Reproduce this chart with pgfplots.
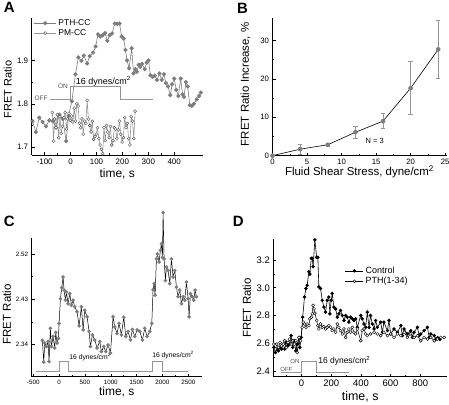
\documentclass[border=0pt]{standalone}
\usepackage{fontspec}
\setmainfont{Liberation Sans}
\setsansfont{Liberation Sans}
\usepackage{pgfplots}
\pgfplotsset{compat=1.18}
\definecolor{mgray}{RGB}{125,125,125}
\definecolor{lgray}{RGB}{150,150,150}
\definecolor{dgray}{RGB}{80,80,80}
\pgfplotsset{
  panel/.style={
    scale only axis,
    axis lines*=left,
    axis line style={line width=0.6pt},
    every tick/.style={black, line width=0.5pt},
    major tick length=3bp,
    minor tick length=1.6bp,
    minor tick num=1,
    /pgf/number format/assume math mode=true,
    /pgf/number format/1000 sep={},
    clip=false,
    anchor=south west,
    xlabel style={at={(axis description cs:0.5,0)}, anchor=center},
    ylabel style={anchor=center},
    legend cell align=left,
  },
}
\begin{document}
\begin{tikzpicture}
\useasboundingbox (0,0) rectangle (449bp,405bp);
% ---------------- Panel A
\begin{axis}[panel,
  at={(31.7bp,250bp)}, width=171bp, height=136.7bp,
  xmin=-150, xmax=510, ymin=1.682, ymax=1.997,
  xtick={-100,0,100,200,300,400}, ytick={1.7,1.8,1.9},
  ticklabel style={font=\fontsize{8}{8}\selectfont},
  xlabel={time, s}, ylabel={FRET Ratio},
  xlabel style={yshift=-18.5bp, font=\fontsize{12}{12}\selectfont},
  ylabel style={at={(axis description cs:-0.14,0.48)}, font=\fontsize{11}{11}\selectfont},
  legend style={draw=none, fill=none, at={(axis description cs:0,1)}, anchor=north west,
    yshift=3bp, xshift=-1bp, font=\fontsize{8.5}{9}\selectfont, row sep=-1.5bp},
  legend image code/.code={\draw[mark repeat=2,mark phase=2] plot coordinates {(0bp,0bp)(11bp,0bp)(22bp,0bp)};},
]
\addplot[mgray, line width=0.6pt, mark=*, mark size=1.8bp, mark options={fill=mgray, draw=mgray}] coordinates {
(-147,1.760) (-134,1.735) (-121,1.768) (-108,1.758) (-95,1.748) (-82,1.762) (-69,1.760)
(-56,1.745) (-43,1.775) (-30,1.765) (-17,1.714) (-8,1.772) (5,1.806) (19,1.868) (30,1.907)
(42,1.899) (51,1.911) (64,1.893) (74,1.910) (87,1.918) (97,1.932) (106,1.960) (115,1.955)
(124,1.958) (133,1.963) (142,1.945) (151,1.958) (160,1.962) (171,1.985) (180,1.984)
(189,1.985) (197,1.955) (205,1.950) (212,1.924) (218,1.900) (226,1.882) (236,1.928)
(243,1.870) (250,1.880) (256,1.874) (263,1.890) (269,1.885) (276,1.892) (286,1.880)
(294,1.895) (301,1.900) (308,1.866) (316,1.862) (325,1.865) (334,1.855) (343,1.870)
(352,1.855) (360,1.868) (368,1.848) (376,1.840) (385,1.820) (392,1.845) (400,1.858)
(408,1.832) (416,1.818) (425,1.858) (432,1.822) (438,1.816) (445,1.850) (452,1.840)
(460,1.797) (468,1.795) (476,1.800) (487,1.810) (496,1.818) (503,1.826)
};
\addlegendentry{PTH-CC}
\addplot[lgray, line width=0.6pt, mark=*, mark size=1.5bp, mark options={fill=white, draw=dgray, line width=0.4pt}] coordinates {
(-70,1.780) (-66,1.714) (-61,1.765) (-56,1.745) (-51,1.775) (-46,1.722) (-41,1.770)
(-36,1.732) (-31,1.748) (-26,1.768) (-21,1.780) (-16,1.742) (-11,1.765) (-6,1.778)
(-1,1.762) (4,1.772) (9,1.758) (14,1.790) (19,1.760) (24,1.800) (29,1.795) (34,1.755)
(39,1.745) (44,1.765) (49,1.730) (54,1.760) (59,1.755) (64,1.808) (69,1.765) (74,1.750)
(79,1.735) (84,1.760) (89,1.718) (94,1.725) (99,1.730) (104,1.745) (109,1.720)
(114,1.705) (119,1.695) (124,1.685) (129,1.745) (134,1.715) (139,1.750) (144,1.735)
(149,1.722) (154,1.748) (159,1.705) (164,1.715) (169,1.745) (174,1.742) (179,1.720)
(184,1.740) (189,1.760) (194,1.730) (199,1.712) (204,1.722) (209,1.768) (214,1.745)
(219,1.755) (224,1.720) (229,1.705) (234,1.770) (239,1.760) (244,1.720) (249,1.783)
};
\addlegendentry{PM-CC}
\addplot[lgray, line width=0.8pt, forget plot] coordinates {
(-80,1.811) (0,1.811) (0,1.841) (191,1.841) (191,1.811) (318,1.811)};
\node[font=\fontsize{6.5}{6.5}\selectfont, text=dgray] at (axis cs:-114,1.812) {OFF};
\node[font=\fontsize{6.5}{6.5}\selectfont, text=dgray] at (axis cs:-29,1.840) {ON};
\node[font=\fontsize{9}{9}\selectfont, anchor=west, inner sep=0pt] at (axis cs:20,1.851) {16 dynes/cm$^{\mathrm{2}}$};
\end{axis}
% ---------------- Panel B
\begin{axis}[panel,
  at={(272.5bp,249.3bp)}, width=174bp, height=137.4bp,
  xmin=0, xmax=25.2, ymin=0, ymax=35.8,
  xtick={0,5,...,25}, ytick={0,10,20,30},
  ticklabel style={font=\fontsize{7.8}{8}\selectfont},
  xlabel={Fluid Shear Stress, dyne/cm$^{\mathrm{2}}$}, ylabel={FRET Ratio Increase, \%},
  xlabel style={yshift=-16.5bp, font=\fontsize{11.5}{12}\selectfont},
  ylabel style={at={(axis description cs:-0.155,0.52)}, font=\fontsize{11.5}{12}\selectfont},
]
\addplot[black, line width=0.6pt, mark=*, mark size=2bp, mark options={fill=mgray, draw=mgray},
  error bars/.cd, y dir=both, y explicit,
  error bar style={lgray, line width=0.9pt},
  error mark options={rotate=90, mark size=2.2bp, lgray, line width=0.7pt}]
coordinates {
(0,0) +- (0,0)
(4,1.7) +- (0,1.3)
(8,2.85) +- (0,0.3)
(12,6.1) +- (0,1.5)
(16,9.0) +- (0,2.0)
(20,17.6) +- (0,6.9)
(24,27.7) +- (0,7.6)
};
\node[font=\fontsize{7.5}{7.5}\selectfont] at (axis cs:14.8,3.9) {N = 3};
\end{axis}
% ---------------- Panel C
\begin{axis}[panel,
  at={(31.7bp,28.3bp)}, width=170bp, height=138.4bp,
  xmin=-530, xmax=2760, ymin=2.276, ymax=2.551,
  xtick={-500,0,...,2500}, ytick={2.34,2.43,2.52},
  ticklabel style={font=\fontsize{6.3}{6.5}\selectfont},
  xlabel={time, s}, ylabel={FRET Ratio},
  xlabel style={yshift=-15.5bp, font=\fontsize{12}{12}\selectfont},
  ylabel style={at={(axis description cs:-0.147,0.45)}, font=\fontsize{11.5}{12}\selectfont},
]
\addplot[black, line width=0.5pt, mark=*, mark size=1.6bp, mark options={fill=mgray, draw=mgray}] coordinates {
(-323,2.348) (-297,2.305) (-277,2.343) (-245,2.336) (-213,2.346) (-194,2.306) (-168,2.372)
(-148,2.336) (-116,2.356) (-84,2.333) (-65,2.364) (-39,2.343) (-13,2.352) (0,2.382)
(26,2.431) (52,2.453) (77,2.474) (97,2.448) (123,2.428) (142,2.444) (174,2.421)
(206,2.441) (239,2.418) (271,2.428) (303,2.415) (348,2.405) (387,2.377) (432,2.415)
(465,2.369) (497,2.408) (542,2.395) (581,2.366) (606,2.336) (645,2.359) (690,2.349)
(735,2.333) (787,2.346) (819,2.326) (865,2.336) (903,2.326) (948,2.339) (994,2.323)
(1045,2.395) (1077,2.375) (1123,2.362) (1161,2.382) (1206,2.359) (1252,2.394)
(1290,2.356) (1335,2.366) (1381,2.349) (1419,2.370) (1465,2.356) (1510,2.369)
(1561,2.366) (1613,2.349) (1658,2.372) (1703,2.356) (1755,2.366) (1794,2.382)
(1819,2.449) (1839,2.461) (1858,2.438) (1884,2.510) (1903,2.520) (1935,2.504)
(1961,2.527) (1981,2.540) (2000,2.513) (2013,2.602) (2032,2.510) (2058,2.467)
(2077,2.494) (2110,2.487) (2142,2.461) (2174,2.510) (2206,2.474) (2239,2.487)
(2271,2.454) (2303,2.435) (2335,2.448) (2368,2.421) (2400,2.435) (2432,2.428)
(2465,2.464) (2497,2.431) (2516,2.395) (2542,2.441) (2581,2.435) (2606,2.428)
(2632,2.448) (2658,2.435)
};
\addplot[lgray, line width=0.8pt] coordinates {
(-452,2.2866) (0,2.2866) (0,2.3064) (180,2.3064) (180,2.2866) (1800,2.2866)
(1800,2.3064) (2000,2.3064) (2000,2.2866) (2500,2.2866)};
\node[font=\fontsize{6.8}{7}\selectfont, anchor=west, inner sep=0pt] at (axis cs:195,2.316) {16 dynes/cm$^{\mathrm{2}}$};
\node[font=\fontsize{6.8}{7}\selectfont, anchor=west, inner sep=0pt] at (axis cs:1800,2.319) {16 dynes/cm$^{\mathrm{2}}$};
\end{axis}
% ---------------- Panel D
\begin{axis}[panel,
  at={(273.3bp,28.3bp)}, width=173.7bp, height=137.4bp,
  xmin=-190, xmax=980, ymin=2.359, ymax=3.349,
  xtick={-200,0,...,800}, ytick={2.4,2.6,...,3.2},
  yticklabel style={/pgf/number format/.cd, fixed, fixed zerofill, precision=1},
  ticklabel style={font=\fontsize{9.5}{10}\selectfont},
  xlabel={time, s}, ylabel={FRET Ratio},
  xlabel style={yshift=-20bp, font=\fontsize{12.5}{13}\selectfont},
  ylabel style={at={(axis description cs:-0.153,0.5)}, font=\fontsize{11.5}{12}\selectfont},
  legend style={draw=none, fill=none, at={(axis description cs:0.395,0.83)}, anchor=north west,
    font=\fontsize{9}{9.5}\selectfont, row sep=-1.5bp},
  legend image code/.code={\draw[mark repeat=2,mark phase=2] plot coordinates {(0bp,0bp)(9bp,0bp)(18bp,0bp)};},
]
\addplot[black, line width=0.6pt, mark=*, mark size=1.4bp, mark options={fill=black}] coordinates {
(-187,2.570) (-176,2.533) (-166,2.558) (-155,2.545) (-144,2.570) (-134,2.558) (-123,2.594)
(-113,2.558) (-102,2.606) (-91,2.582) (-81,2.594) (-70,2.655) (-59,2.570) (-49,2.618)
(-38,2.545) (-28,2.594) (-17,2.642) (-11,2.570) (-2,2.642) (8,2.788) (20,2.933)
(30,2.994) (38,3.018) (50,3.115) (56,3.098) (66,3.212) (72,3.212) (78,3.152) (90,3.345)
(102,3.219) (110,3.219) (117,3.006) (128,2.994) (140,2.909) (151,2.861) (162,2.824)
(173,2.909) (184,2.933) (191,2.812) (200,2.909) (207,2.958) (218,2.861) (230,2.848)
(241,2.788) (252,2.812) (263,2.836) (275,2.800) (286,2.764) (297,2.800) (308,2.788)
(319,2.752) (331,2.788) (342,2.776) (353,2.764) (365,2.776) (376,2.715) (399,2.800)
(409,2.776) (421,2.739) (432,2.715) (443,2.824) (455,2.715) (465,2.800) (477,2.739)
(489,2.703) (499,2.764) (511,2.715) (533,2.752) (545,2.679) (555,2.752) (579,2.691)
(589,2.764) (601,2.667) (623,2.703) (646,2.679) (669,2.727) (679,2.655) (691,2.703)
(713,2.667) (736,2.691) (747,2.642) (758,2.679) (781,2.715) (792,2.655) (803,2.667)
(826,2.691) (848,2.715) (860,2.642) (871,2.667) (894,2.655) (905,2.630) (918,2.640)
(932,2.628)
};
\addlegendentry{Control}
\addplot[black, line width=0.5pt, mark=*, mark size=1.5bp, mark options={fill=white, draw=black, line width=0.4pt}] coordinates {
(-187,2.594) (-176,2.558) (-166,2.594) (-155,2.570) (-144,2.606) (-134,2.582) (-123,2.594)
(-113,2.618) (-102,2.570) (-91,2.606) (-81,2.630) (-70,2.594) (-59,2.618) (-49,2.594)
(-38,2.618) (-28,2.533) (-17,2.642) (-6,2.618) (4,2.715) (12,2.752) (20,2.739)
(30,2.715) (38,2.739) (50,2.727) (56,2.776) (66,2.788) (72,2.812) (78,2.873) (84,2.848)
(90,2.817) (102,2.764) (110,2.727) (117,2.703) (128,2.739) (140,2.715) (151,2.720)
(162,2.703) (173,2.715) (184,2.727) (196,2.715) (207,2.691) (218,2.703) (230,2.679)
(241,2.739) (252,2.715) (263,2.691) (275,2.667) (286,2.703) (297,2.642) (308,2.679)
(319,2.703) (331,2.679) (342,2.715) (353,2.679) (365,2.667) (376,2.703) (399,2.618)
(409,2.691) (421,2.703) (432,2.667) (443,2.655) (465,2.667) (489,2.679) (511,2.667)
(533,2.655) (555,2.679) (579,2.655) (601,2.667) (623,2.642) (646,2.667) (669,2.655)
(691,2.679) (713,2.642) (736,2.667) (758,2.642) (781,2.655) (803,2.618) (826,2.642)
(848,2.630) (871,2.642) (894,2.618) (916,2.630) (938,2.642) (961,2.642)
};
\addlegendentry{PTH(1-34)}
\addplot[lgray, line width=0.8pt, forget plot] coordinates {
(-140,2.388) (0,2.388) (0,2.471) (100,2.471) (100,2.388) (318,2.388)};
\node[font=\fontsize{6}{6}\selectfont, text=dgray] at (axis cs:-102,2.409) {OFF};
\node[font=\fontsize{6}{6}\selectfont, text=dgray] at (axis cs:-44,2.472) {ON};
\node[font=\fontsize{8.5}{9}\selectfont, anchor=west, inner sep=0pt] at (axis cs:112,2.476) {16 dynes/cm$^{\mathrm{2}}$};
\end{axis}
% panel letters
\node[font=\bfseries\fontsize{15}{15}\selectfont] at (9.2bp,397.5bp) {A};
\node[font=\bfseries\fontsize{15}{15}\selectfont] at (242.5bp,396.7bp) {B};
\node[font=\bfseries\fontsize{15}{15}\selectfont] at (9.2bp,184bp) {C};
\node[font=\bfseries\fontsize{15}{15}\selectfont] at (238.3bp,184bp) {D};
\end{tikzpicture}
\end{document}
